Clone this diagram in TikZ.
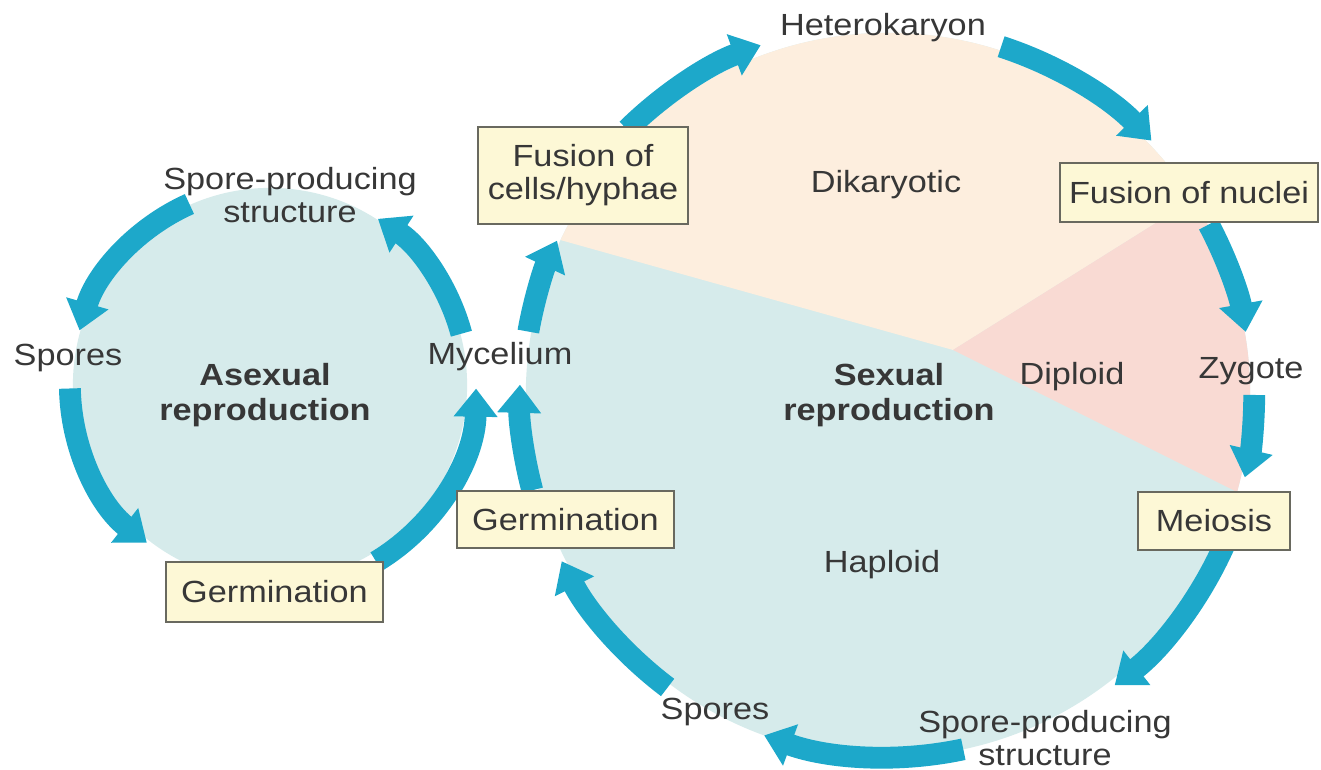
\documentclass[tikz,border=0pt]{standalone}
\usepackage{fontspec}
\setmainfont{Liberation Sans}[FakeStretch=1.12]
\usepackage{tikz}
\usetikzlibrary{arrows.meta, calc}
\definecolor{cArrow}{RGB}{29,168,202}
\definecolor{cHap}{RGB}{214,235,235}
\definecolor{cDik}{RGB}{253,238,222}
\definecolor{cDip}{RGB}{249,218,211}
\definecolor{cBox}{RGB}{253,248,214}
\definecolor{cEdge}{RGB}{105,105,95}
\definecolor{cText}{RGB}{55,55,55}
\tikzset{
	cyc/.style={line width=6.2pt, cArrow, -{Triangle[width=12pt, length=8pt]}},
	stagebox/.style={rectangle, draw=cEdge, line width=0.7pt, fill=cBox, align=center, inner sep=0pt, text=cText},
	lbl/.style={align=center, text=cText, inner sep=0pt},
	% phase names inside the circles
	phase/.style={lbl, font=\fontsize{8.7}{9.9}\selectfont\bfseries},
}

\begin{document}
\begin{tikzpicture}[x=0.01cm, y=0.01cm, font=\fontsize{8.7}{9.4}\selectfont]
	\useasboundingbox (0,0) rectangle (1321,770);
	\coordinate (L) at (270,385);
	\coordinate (R) at (888,375);
	\coordinate (T) at (953,420);
	% circle fills
	\fill[cHap] (L) circle[radius=1.97cm];
	\begin{scope}
		\clip (R) circle[radius=3.62cm];
		\fill[cHap] (R) circle[radius=3.7cm];
		\fill[cDik] (T) -- +(-507,142) -- +(-507,400) -- +(500,400) -- +(500,313) -- cycle;
		\fill[cDip] (T) -- +(500,313) -- +(500,-250) -- cycle;
	\end{scope}
	% asexual cycle
	\foreach \a/\b/\r in {15/57/1.98, 114/164/1.98, 181/232/2.0, -59/-1/2.06} {
		\draw[cyc] ($(L)+(\a:\r cm)$) arc[start angle=\a, end angle=\b, radius=\r cm];
	}
	% sexual cycle
	\foreach \a/\b/\r in {134.5/110/3.72, 72/44/3.66, 28/10/3.63, 0/-13/3.66, -24/-52/3.68, -78/-110/3.62, -127/-153/3.66, 195/178.4/3.68, 170/155/3.65} {
		\draw[cyc] ($(R)+(\a:\r cm)$) arc[start angle=\a, end angle=\b, radius=\r cm];
	}
	% stages
	\node[lbl] (hetero) at (883,742) {Heterokaryon};
	\node[stagebox, minimum width=2.10cm, minimum height=0.97cm] (fuscell) at (583,594.5) {Fusion of\\cells/hyphae};
	\node[stagebox, minimum width=2.58cm, minimum height=0.59cm] (fusnuc) at (1189,577.5) {Fusion of nuclei};
	\node[lbl] (zyg) at (1251,399) {Zygote};
	\node[stagebox, minimum width=1.52cm, minimum height=0.58cm] (meio) at (1214,249) {Meiosis};
	\node[lbl] (spsB) at (1045,32) {Spore-producing\\structure};
	\node[lbl] (sporesB) at (715,58) {Spores};
	\node[stagebox, minimum width=2.17cm, minimum height=0.57cm] (germB) at (565.5,250.5) {Germination};
	\node[lbl] (myc) at (500,413) {Mycelium};
	\node[stagebox, minimum width=2.17cm, minimum height=0.60cm] (germA) at (274.5,178) {Germination};
	\node[lbl] (sporesA) at (68,412) {Spores};
	\node[lbl] (spsA) at (290,575) {Spore-producing\\structure};
	% region labels
	\node[phase] (asex) at (265,375) {Asexual\\reproduction};
	\node[phase] (sex) at (889,375) {Sexual\\reproduction};
	\node[lbl] (dik) at (886,585) {Dikaryotic};
	\node[lbl] (dip) at (1072,393) {Diploid};
	\node[lbl] (hap) at (882,205) {Haploid};
\end{tikzpicture}
\end{document}
